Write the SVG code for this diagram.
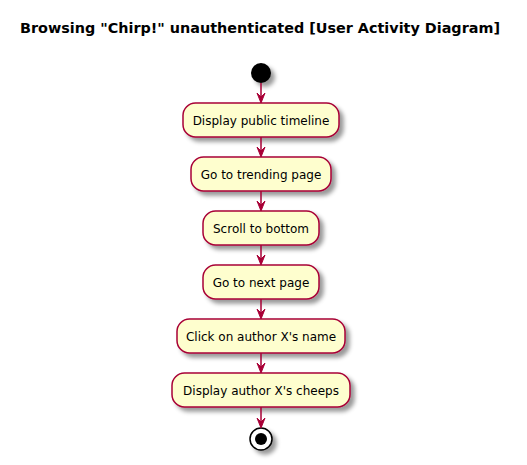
<svg xmlns="http://www.w3.org/2000/svg" width="527" height="465" viewBox="0 0 527 465">
<defs>
<filter id="sh" x="-1" y="-1" width="300%" height="300%">
<feGaussianBlur result="b" stdDeviation="2"/>
<feColorMatrix type="matrix" in="b" result="c" values="0 0 0 0 0 0 0 0 0 0 0 0 0 0 0 0 0 0 .4 0"/>
<feOffset result="o" dx="4" dy="4" in="c"/>
<feBlend in="SourceGraphic" in2="o" mode="normal"/>
</filter>
</defs>
<style>
.act{fill:#FEFECE;stroke:#A80036;stroke-width:1.5;filter:url(#sh)}
.t{font-family:"DejaVu Sans",sans-serif;font-size:12px;fill:#000;text-anchor:middle}
.ttl{font-family:"DejaVu Sans",sans-serif;font-size:14px;font-weight:bold;fill:#000}
.ln{stroke:#A80036;stroke-width:1.5;fill:none}
.hd{fill:#A80036;stroke:#A80036;stroke-width:1}
</style>
<rect width="527" height="465" fill="#fff"/>
<text class="ttl" x="20" y="33" textLength="480" lengthAdjust="spacingAndGlyphs">Browsing "Chirp!" unauthenticated [User Activity Diagram]</text>
<g id="start"><circle cx="261" cy="73" r="10" fill="#000" filter="url(#sh)"/></g>
<g id="n1"><rect class="act" x="183" y="103" width="156" height="34" rx="12.5"/><text class="t" x="261" y="125">Display public timeline</text></g>
<g id="n2"><rect class="act" x="191" y="157" width="140" height="34" rx="12.5"/><text class="t" x="261" y="179">Go to trending page</text></g>
<g id="n3"><rect class="act" x="203" y="211" width="116" height="34" rx="12.5"/><text class="t" x="261" y="233">Scroll to bottom</text></g>
<g id="n4"><rect class="act" x="203" y="265" width="116" height="34" rx="12.5"/><text class="t" x="261" y="287">Go to next page</text></g>
<g id="n5"><rect class="act" x="177" y="319" width="168" height="34" rx="12.5"/><text class="t" x="261" y="341">Click on author X's name</text></g>
<g id="n6"><rect class="act" x="172" y="373" width="178" height="34" rx="12.5"/><text class="t" x="261" y="395">Display author X's cheeps</text></g>
<g id="end"><circle cx="261" cy="439" r="11" fill="#fff" stroke="#000" stroke-width="1.5" filter="url(#sh)"/><circle cx="261" cy="439" r="6" fill="#000"/></g>
<g id="connectors">
<line class="ln" x1="261" y1="83" x2="261" y2="101"/><polygon class="hd" points="257,93 261,103 265,93 261,97"/>
<line class="ln" x1="261" y1="137" x2="261" y2="155"/><polygon class="hd" points="257,147 261,157 265,147 261,151"/>
<line class="ln" x1="261" y1="191" x2="261" y2="209"/><polygon class="hd" points="257,201 261,211 265,201 261,205"/>
<line class="ln" x1="261" y1="245" x2="261" y2="263"/><polygon class="hd" points="257,255 261,265 265,255 261,259"/>
<line class="ln" x1="261" y1="299" x2="261" y2="317"/><polygon class="hd" points="257,309 261,319 265,309 261,313"/>
<line class="ln" x1="261" y1="353" x2="261" y2="371"/><polygon class="hd" points="257,363 261,373 265,363 261,367"/>
<line class="ln" x1="261" y1="407" x2="261" y2="426"/><polygon class="hd" points="257,418 261,428 265,418 261,422"/>
</g>
</svg>
